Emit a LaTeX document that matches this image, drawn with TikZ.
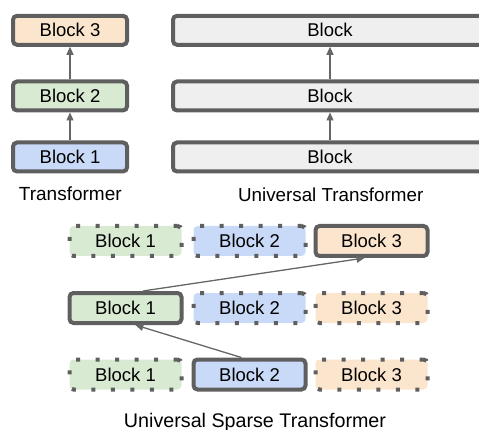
\documentclass[tikz,border=0pt]{standalone}
\usepackage{fontspec}
\setmainfont{Liberation Sans}
\usetikzlibrary{arrows.meta,calc}
\definecolor{bord}{HTML}{5F5F5F}
\definecolor{arr}{HTML}{666666}
\definecolor{fgreen}{HTML}{D9EAD3}
\definecolor{fblue}{HTML}{C9DAF8}
\definecolor{forange}{HTML}{FCE5CD}
\definecolor{fgray}{HTML}{EFEFEF}
\tikzset{
  blk/.style={draw=bord, line width=4pt, rounded corners=4pt, minimum width=114pt, minimum height=29pt, inner sep=0pt, font=\fontsize{18.5}{22}\selectfont},
  sblk/.style={blk, minimum width=112pt, minimum height=30pt},
  dblk/.style={sblk, dash pattern=on 4pt off 15.5pt},
  ublk/.style={blk, minimum width=314pt},
  captxt/.style={anchor=base, font=\fontsize{19}{22}\selectfont, inner sep=0pt},
  conn/.style={draw=arr, line width=1.3pt, -{Triangle[length=8pt,width=7pt]}}
}
\begin{document}
\begin{tikzpicture}[x=1pt,y=-1pt]
\useasboundingbox (0,0) rectangle (479,430);
\begin{scope}
\clip (0,0) rectangle (479,430);
% Transformer
\node[blk, fill=forange] (t3) at (70,30.3) {Block 3};
\node[blk, fill=fgreen] (t2) at (70,96) {Block 2};
\node[blk, fill=fblue] (t1) at (70,157) {Block 1};
\draw[conn] (t1) -- (t2);
\draw[conn] (t2) -- (t3);
\node[captxt] (tcap) at (70.3,201) {Transformer};
% Universal Transformer
\node[ublk, fill=fgray] (u3) at (330,30.3) {Block};
\node[ublk, fill=fgray] (u2) at (330,96) {Block};
\node[ublk, fill=fgray] (u1) at (330,157) {Block};
\draw[conn] (u1) -- (u2);
\draw[conn] (u2) -- (u3);
\node[captxt, font=\fontsize{18.8}{22}\selectfont] (ucap) at (330.7,201.5) {Universal Transformer};
% Universal Sparse Transformer
\node[dblk, fill=fgreen] (a1) at (125.5,241) {Block 1};
\node[dblk, fill=fblue] (a2) at (249.5,241) {Block 2};
\node[sblk, fill=forange] (a3) at (371.5,241) {Block 3};
\node[sblk, fill=fgreen] (b1) at (125.5,308) {Block 1};
\node[dblk, fill=fblue] (b2) at (249.5,308) {Block 2};
\node[dblk, fill=forange] (b3) at (371.5,308) {Block 3};
\node[dblk, fill=fgreen] (c1) at (125.5,374.5) {Block 1};
\node[sblk, fill=fblue] (c2) at (249.5,374.5) {Block 2};
\node[dblk, fill=forange] (c3) at (371.5,374.5) {Block 3};
\draw[conn] ($(b1.north west)!0.65!(b1.north east)$) -- ($(a3.south west)!0.44!(a3.south east)$);
\draw[conn] ($(c2.north west)!0.43!(c2.north east)$) -- ($(b1.south west)!0.585!(b1.south east)$);
\node[captxt, font=\fontsize{19.7}{22}\selectfont] (scap) at (255,427) {Universal Sparse Transformer};
\end{scope}
\end{tikzpicture}
\end{document}
